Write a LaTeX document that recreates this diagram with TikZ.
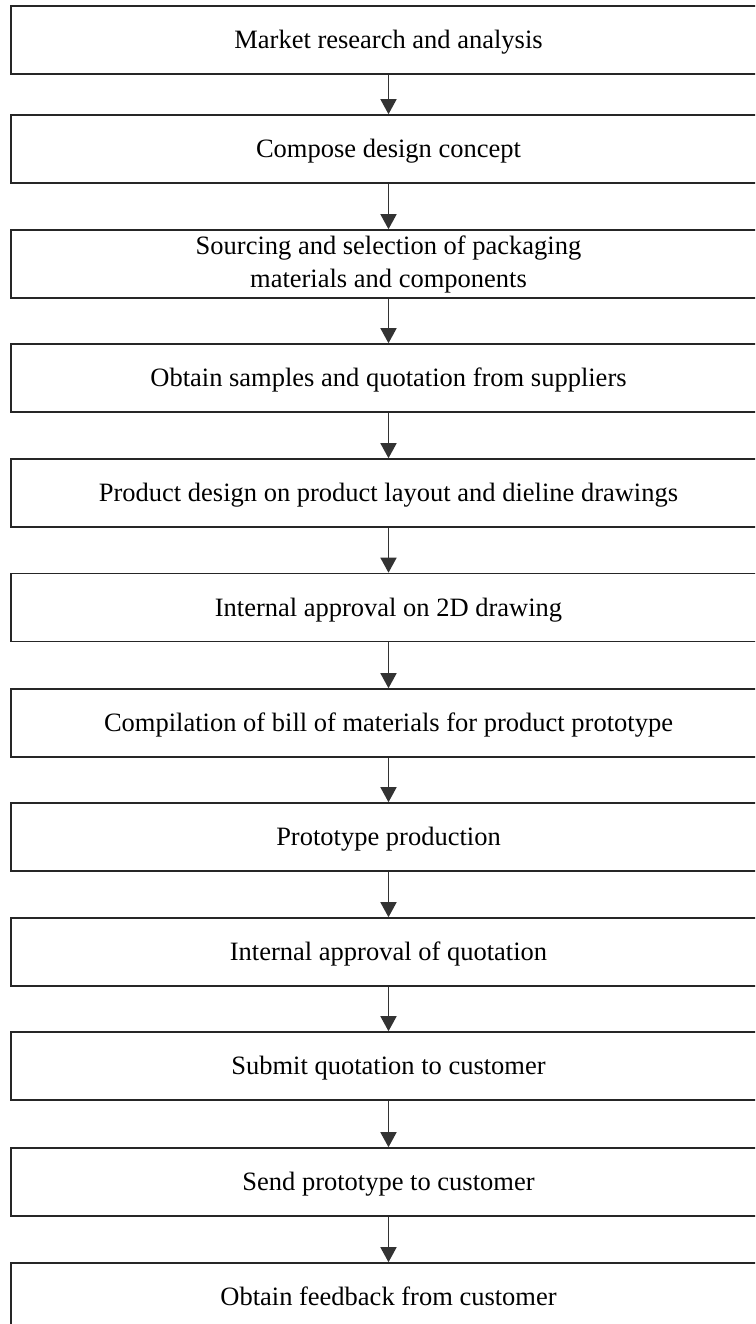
\documentclass[tikz,border=0pt]{standalone}
\usepackage{fontspec}
\setmainfont{Liberation Serif}
\usetikzlibrary{arrows.meta}
\begin{document}
\begin{tikzpicture}[x=1pt,y=1pt,
  stepbox/.style={draw=black!85, line width=1.6pt, rectangle, inner sep=0pt,
    minimum width=755pt, minimum height=68pt, align=center, text depth=1pt,
    font=\fontsize{26.5}{33}\selectfont},
  twoline/.style={text depth=5pt},
  flow/.style={draw=black!80, line width=1.5pt,
    -{Triangle[width=16pt,length=15pt]}}]
\useasboundingbox (0,0) rectangle (755,-1324);
\fill[white] (0,0) rectangle (755,-1324);
\clip (0,0) rectangle (755,-1324);
\node[stepbox] (s1)  at (388.5,-40)   {Market research and analysis};
\node[stepbox] (s2)  at (388.5,-149)  {Compose design concept};
\node[stepbox, twoline] (s3)  at (388.5,-264)  {Sourcing and selection of packaging\\materials and components};
\node[stepbox] (s4)  at (388.5,-378)  {Obtain samples and quotation from suppliers};
\node[stepbox] (s5)  at (388.5,-493)  {Product design on product layout and dieline drawings};
\node[stepbox] (s6)  at (388.5,-607.5){Internal approval on 2D drawing};
\node[stepbox] (s7)  at (388.5,-723)  {Compilation of bill of materials for product prototype};
\node[stepbox] (s8)  at (388.5,-837)  {Prototype production};
\node[stepbox] (s9)  at (388.5,-952)  {Internal approval of quotation};
\node[stepbox] (s10) at (388.5,-1066) {Submit quotation to customer};
\node[stepbox] (s11) at (388.5,-1182) {Send prototype to customer};
\node[stepbox] (s12) at (388.5,-1297) {Obtain feedback from customer};
\foreach \a/\b in {s1/s2,s2/s3,s3/s4,s4/s5,s5/s6,s6/s7,s7/s8,s8/s9,s9/s10,s10/s11,s11/s12}
  \draw[flow] (\a.south) -- (\b.north);
\end{tikzpicture}
\end{document}
